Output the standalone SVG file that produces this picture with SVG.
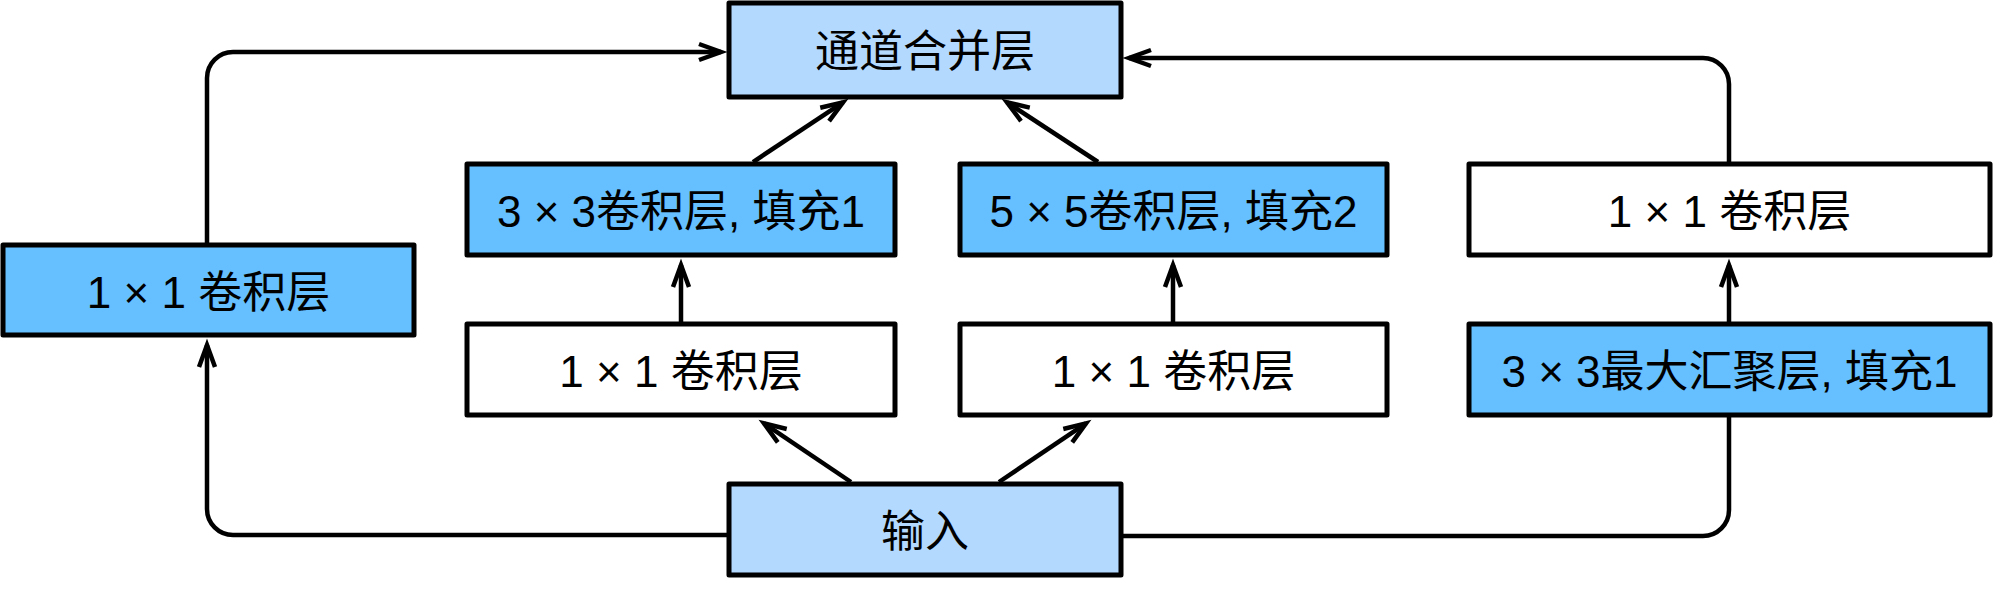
<svg xmlns="http://www.w3.org/2000/svg" width="2007" height="594" viewBox="0 0 2007 594">
<style>
rect{stroke:#000;stroke-width:5;stroke-linejoin:round}
.light{fill:#B3D9FF}
.blue{fill:#66BFFF}
.white{fill:#FFFFFF}
text{font-family:"Liberation Sans","Noto Sans CJK SC",sans-serif;font-size:44px;text-anchor:middle;fill:#000}
.conn path{fill:none;stroke:#000;stroke-width:4.5;marker-end:url(#ah)}
</style>
<defs>
<marker id="ah" markerUnits="userSpaceOnUse" markerWidth="40" markerHeight="30" viewBox="-30 -15 40 30" refX="0" refY="0" orient="auto" overflow="visible">
<path d="M-22,-8 L0,0 L-22,8" fill="none" stroke="#000" stroke-width="4.5"/>
</marker>
</defs>
<rect width="2007" height="594" fill="#fff" style="stroke:none"/>
<g class="conn" id="connectors">
<path d="M207,243 V78 A26,26 0 0 1 233,52 H721"/>
<path d="M1729,162 V84 A26,26 0 0 0 1703,58 H1129"/>
<path d="M753,162 L843,102.3"/>
<path d="M1098,162 L1007,102.3"/>
<path d="M681,322 V265"/>
<path d="M1173,322 V265"/>
<path d="M1729,322 V265"/>
<path d="M727,535 H233 A26,26 0 0 1 207,509 V345"/>
<path d="M1123,536 H1703 A26,26 0 0 0 1729,510 V345"/>
<path d="M851,482 L764,423.4"/>
<path d="M999,482 L1086,423.4"/>
</g>
<g id="concat"><rect class="light" x="729" y="3" width="392" height="94"/><text x="925" y="67">通道合并层</text></g>
<g id="conv1x1_a"><rect class="blue" x="3" y="245" width="411" height="90"/><text x="208.5" y="308">1 × 1 卷积层</text></g>
<g id="conv3x3"><rect class="blue" x="467" y="164" width="428" height="91"/><text x="681" y="227">3 × 3卷积层, 填充1</text></g>
<g id="conv5x5"><rect class="blue" x="960" y="164" width="427" height="91"/><text x="1173.5" y="227">5 × 5卷积层, 填充2</text></g>
<g id="conv1x1_d"><rect class="white" x="1469" y="164" width="521" height="91"/><text x="1729.5" y="227">1 × 1 卷积层</text></g>
<g id="conv1x1_b"><rect class="white" x="467" y="324" width="428" height="91"/><text x="681" y="387">1 × 1 卷积层</text></g>
<g id="conv1x1_c"><rect class="white" x="960" y="324" width="427" height="91"/><text x="1173.5" y="387">1 × 1 卷积层</text></g>
<g id="maxpool"><rect class="blue" x="1469" y="324" width="521" height="91"/><text x="1729.5" y="387">3 × 3最大汇聚层, 填充1</text></g>
<g id="input"><rect class="light" x="729" y="484" width="392" height="91"/><text x="925" y="547">输入</text></g>
</svg>
